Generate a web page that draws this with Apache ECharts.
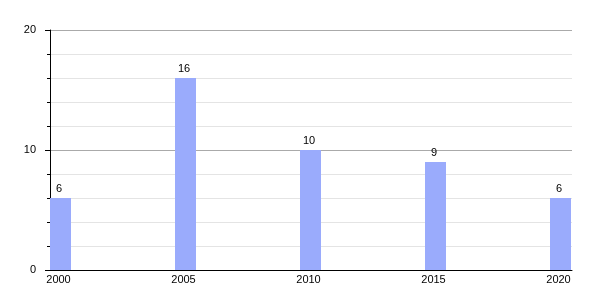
<!DOCTYPE html>
<html>
<head>
<meta charset="utf-8">
<script src="https://cdn.jsdelivr.net/npm/echarts@6/dist/echarts.min.js"></script>
<style>html,body{margin:0;padding:0;background:#fff}#c{width:600px;height:300px}</style>
</head>
<body>
<div id="c"></div>
<script>
const years = [2000, 2005, 2010, 2015, 2020];
const values = [6, 16, 10, 9, 6];
const yTicks = [0, 10, 20];

const chart = echarts.init(document.getElementById('c'), null, {renderer: 'canvas'});
chart.setOption({
  animation: false,
  backgroundColor: '#fff',
  grid: {left: 50, right: 28, top: 30, bottom: 30},
  xAxis: {
    type: 'value',
    min: 1999.58,
    max: 2020.46,
    axisLine: {show: true, lineStyle: {color: '#000', width: 1}},
    axisTick: {show: false},
    splitLine: {show: false},
    axisLabel: {
      customValues: years,
      color: '#000', fontSize: 11, fontFamily: 'Liberation Sans, Arial, sans-serif',
      margin: 4,
      padding: [0, 4, 0, 0],
      formatter: v => String(v)
    }
  },
  yAxis: {
    type: 'value',
    min: yTicks[0], max: yTicks[yTicks.length - 1], interval: 10,
    axisLine: {show: true, lineStyle: {color: '#000', width: 1}},
    axisTick: {show: true, inside: false, length: 5, lineStyle: {color: '#000'}},
    minorTick: {show: true, splitNumber: 5, length: 3, lineStyle: {color: '#000'}},
    splitLine: {show: true, lineStyle: {color: '#aaaaaa', width: 1}},
    minorSplitLine: {show: true, lineStyle: {color: '#e4e4e4', width: 1}},
    axisLabel: {color: '#000', fontSize: 11, fontFamily: 'Liberation Sans, Arial, sans-serif', margin: 14}
  },
  series: [{
    type: 'bar',
    data: years.map((y, i) => [y, values[i]]),
    barWidth: 21,
    itemStyle: {color: '#9aabfc'},
    label: {show: true, position: 'top', distance: 4, padding: [0, 3, 0, 0], color: '#000', fontSize: 11, fontFamily: 'Liberation Sans, Arial, sans-serif'}
  }]
});
</script>
</body>
</html>
